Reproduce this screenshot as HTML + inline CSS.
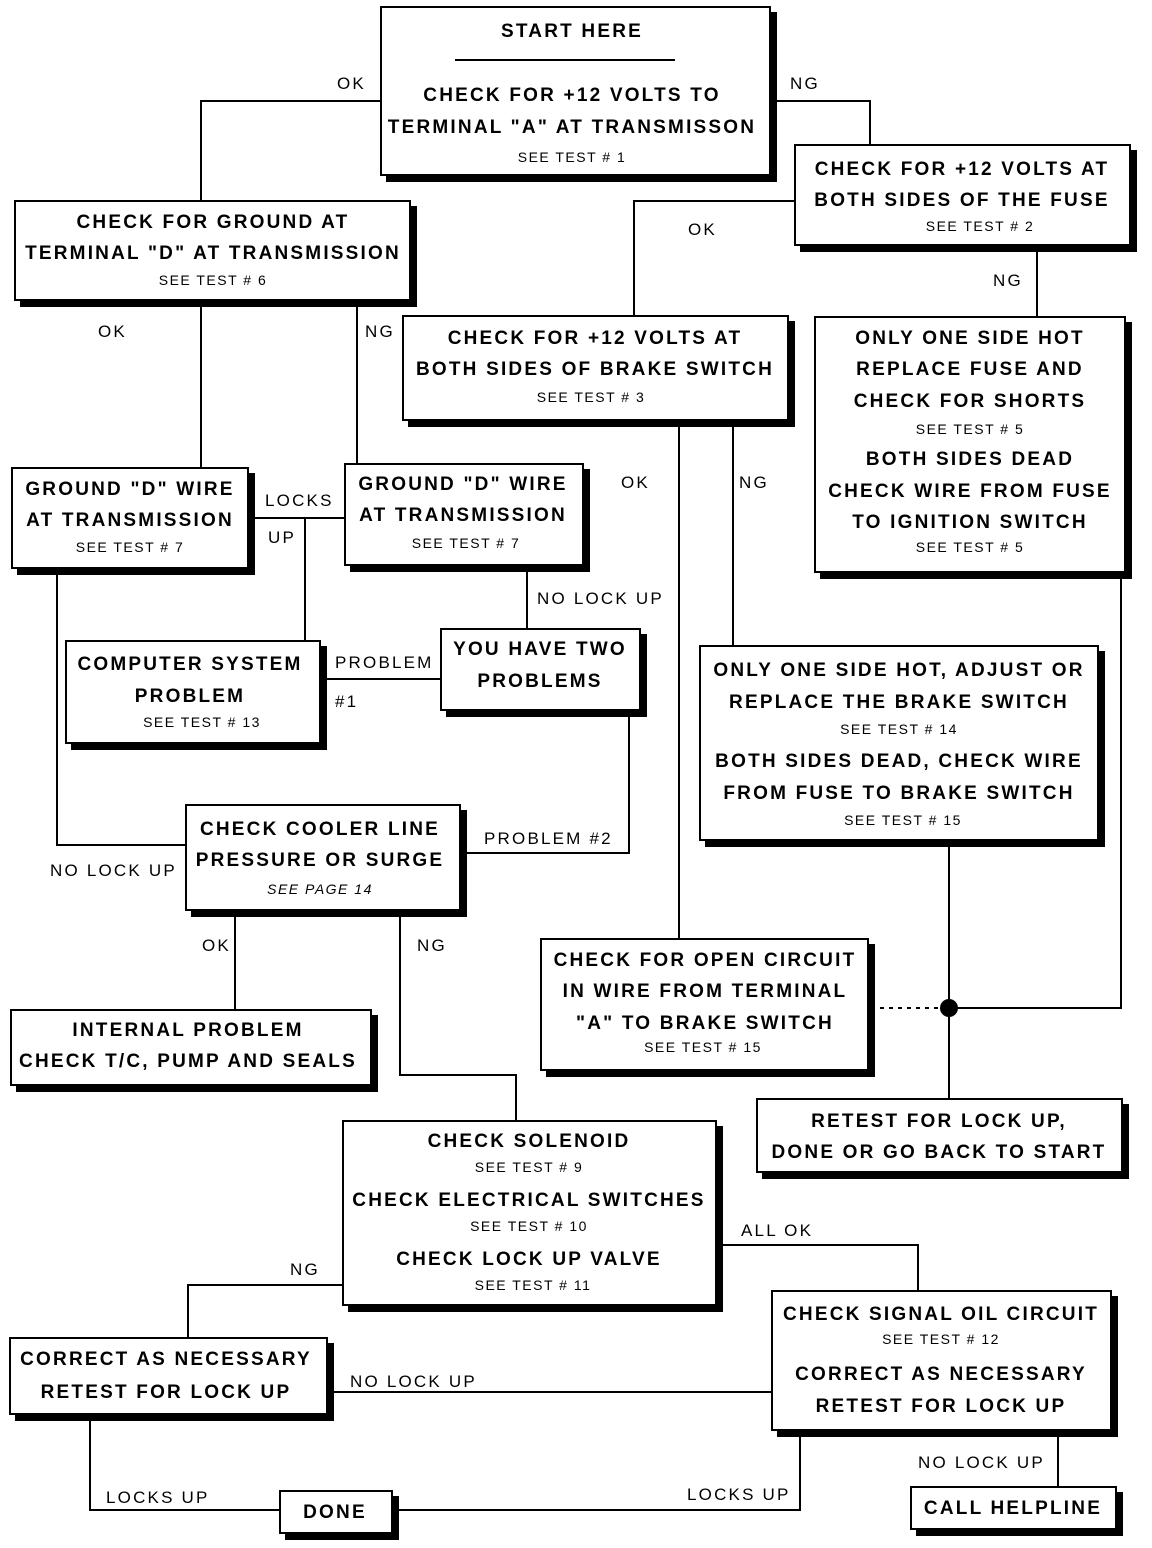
<!DOCTYPE html>
<html><head><meta charset="utf-8"><style>
html,body{margin:0;padding:0;background:#fff}
svg{display:block}
text{font-family:"Liberation Sans",sans-serif;fill:#000}
.b{font-size:19px;font-weight:bold;letter-spacing:2.2px;text-anchor:middle}
.s{font-size:14px;letter-spacing:1.5px;text-anchor:middle}
.l{font-size:17px;letter-spacing:2.2px}
.ln{stroke:#000;stroke-width:2;fill:none}
</style></head><body>
<svg width="1152" height="1548" viewBox="0 0 1152 1548" xmlns="http://www.w3.org/2000/svg">
<g class="ln">
<polyline points="381,101 201,101 201,201"/>
<polyline points="770,101 870,101 870,145"/>
<polyline points="795,201 634,201 634,316"/>
<line x1="1037" y1="245" x2="1037" y2="317"/>
<line x1="201" y1="300" x2="201" y2="468"/>
<line x1="357" y1="300" x2="357" y2="464"/>
<line x1="248" y1="518" x2="345" y2="518"/>
<line x1="305" y1="518" x2="305" y2="641"/>
<polyline points="57,568 57,845 186,845"/>
<line x1="527" y1="565" x2="527" y2="629"/>
<line x1="320" y1="679" x2="441" y2="679"/>
<polyline points="629,710 629,853 460,853"/>
<line x1="679" y1="420" x2="679" y2="939"/>
<line x1="733" y1="420" x2="733" y2="646"/>
<polyline points="1121,572 1121,1008 949,1008"/>
<line x1="949" y1="840" x2="949" y2="1099"/>
<line x1="235" y1="910" x2="235" y2="1010"/>
<polyline points="400,910 400,1075 516,1075 516,1121"/>
<polyline points="343,1285 188,1285 188,1338"/>
<polyline points="716,1245 918,1245 918,1291"/>
<line x1="772" y1="1392" x2="327" y2="1392"/>
<polyline points="90,1414 90,1510 280,1510"/>
<polyline points="800,1430 800,1510 392,1510"/>
<line x1="1058" y1="1430" x2="1058" y2="1487"/>
</g>
<line x1="880" y1="1008" x2="940" y2="1008" stroke="#000" stroke-width="2" stroke-dasharray="4,5"/>
<circle cx="949" cy="1008" r="9" fill="#000"/>
<g>
<g fill="#000">
<rect x="386" y="12" width="391" height="170"/>
<rect x="800" y="150" width="337" height="102"/>
<rect x="20" y="206" width="397" height="101"/>
<rect x="408" y="321" width="387" height="106"/>
<rect x="820" y="322" width="312" height="257"/>
<rect x="17" y="473" width="238" height="102"/>
<rect x="350" y="469" width="240" height="103"/>
<rect x="71" y="646" width="256" height="104"/>
<rect x="446" y="634" width="201" height="83"/>
<rect x="705" y="651" width="400" height="196"/>
<rect x="191" y="810" width="276" height="107"/>
<rect x="16" y="1015" width="362" height="77"/>
<rect x="546" y="944" width="329" height="133"/>
<rect x="762" y="1104" width="367" height="75"/>
<rect x="348" y="1126" width="375" height="186"/>
<rect x="15" y="1343" width="319" height="78"/>
<rect x="777" y="1296" width="341" height="141"/>
<rect x="285" y="1496" width="114" height="44"/>
<rect x="916" y="1492" width="207" height="44"/>
</g>
<g fill="#fff" stroke="#000" stroke-width="2">
<rect x="381" y="7" width="389" height="168"/>
<rect x="795" y="145" width="335" height="100"/>
<rect x="15" y="201" width="395" height="99"/>
<rect x="403" y="316" width="385" height="104"/>
<rect x="815" y="317" width="310" height="255"/>
<rect x="12" y="468" width="236" height="100"/>
<rect x="345" y="464" width="238" height="101"/>
<rect x="66" y="641" width="254" height="102"/>
<rect x="441" y="629" width="199" height="81"/>
<rect x="700" y="646" width="398" height="194"/>
<rect x="186" y="805" width="274" height="105"/>
<rect x="11" y="1010" width="360" height="75"/>
<rect x="541" y="939" width="327" height="131"/>
<rect x="757" y="1099" width="365" height="73"/>
<rect x="343" y="1121" width="373" height="184"/>
<rect x="10" y="1338" width="317" height="76"/>
<rect x="772" y="1291" width="339" height="139"/>
<rect x="280" y="1491" width="112" height="42"/>
<rect x="911" y="1487" width="205" height="42"/>
</g>
</g>
<line x1="455" y1="60" x2="675" y2="60" stroke="#000" stroke-width="2"/>
<text class="b" x="572" y="37">START HERE</text>
<text class="b" x="572" y="101">CHECK FOR +12 VOLTS TO</text>
<text class="b" x="572" y="133">TERMINAL "A" AT TRANSMISSON</text>
<text class="s" x="572" y="162">SEE TEST # 1</text>

<text class="b" x="962" y="175">CHECK FOR +12 VOLTS AT</text>
<text class="b" x="962" y="206">BOTH SIDES OF THE FUSE</text>
<text class="s" x="980" y="231">SEE TEST # 2</text>

<text class="b" x="213" y="228">CHECK FOR GROUND AT</text>
<text class="b" x="213" y="259">TERMINAL "D" AT TRANSMISSION</text>
<text class="s" x="213" y="285">SEE TEST # 6</text>

<text class="b" x="595" y="344">CHECK FOR +12 VOLTS AT</text>
<text class="b" x="595" y="375">BOTH SIDES OF BRAKE SWITCH</text>
<text class="s" x="591" y="402">SEE TEST # 3</text>

<text class="b" x="970" y="344">ONLY ONE SIDE HOT</text>
<text class="b" x="970" y="375">REPLACE FUSE AND</text>
<text class="b" x="970" y="407">CHECK FOR SHORTS</text>
<text class="s" x="970" y="434">SEE TEST # 5</text>
<text class="b" x="970" y="465">BOTH SIDES DEAD</text>
<text class="b" x="970" y="497">CHECK WIRE FROM FUSE</text>
<text class="b" x="970" y="528">TO IGNITION SWITCH</text>
<text class="s" x="970" y="552">SEE TEST # 5</text>

<text class="b" x="130" y="495">GROUND "D" WIRE</text>
<text class="b" x="130" y="526">AT TRANSMISSION</text>
<text class="s" x="130" y="552">SEE TEST # 7</text>

<text class="b" x="463" y="490">GROUND "D" WIRE</text>
<text class="b" x="463" y="521">AT TRANSMISSION</text>
<text class="s" x="466" y="548">SEE TEST # 7</text>

<text class="b" x="190" y="670">COMPUTER SYSTEM</text>
<text class="b" x="190" y="702">PROBLEM</text>
<text class="s" x="202" y="727">SEE TEST # 13</text>

<text class="b" x="540" y="655">YOU HAVE TWO</text>
<text class="b" x="540" y="687">PROBLEMS</text>

<text class="b" x="899" y="676">ONLY ONE SIDE HOT, ADJUST OR</text>
<text class="b" x="899" y="708">REPLACE THE BRAKE SWITCH</text>
<text class="s" x="899" y="734">SEE TEST # 14</text>
<text class="b" x="899" y="767">BOTH SIDES DEAD, CHECK WIRE</text>
<text class="b" x="899" y="799">FROM FUSE TO BRAKE SWITCH</text>
<text class="s" x="903" y="825">SEE TEST # 15</text>

<text class="b" x="320" y="835">CHECK COOLER LINE</text>
<text class="b" x="320" y="866">PRESSURE OR SURGE</text>
<text class="s" x="320" y="894" font-style="italic">SEE PAGE 14</text>

<text class="b" x="188" y="1036">INTERNAL PROBLEM</text>
<text class="b" x="188" y="1067">CHECK T/C, PUMP AND SEALS</text>

<text class="b" x="705" y="966">CHECK FOR OPEN CIRCUIT</text>
<text class="b" x="705" y="997">IN WIRE FROM TERMINAL</text>
<text class="b" x="705" y="1029">"A" TO BRAKE SWITCH</text>
<text class="s" x="703" y="1052">SEE TEST # 15</text>

<text class="b" x="939" y="1127">RETEST FOR LOCK UP,</text>
<text class="b" x="939" y="1158">DONE OR GO BACK TO START</text>

<text class="b" x="529" y="1147">CHECK SOLENOID</text>
<text class="s" x="529" y="1172">SEE TEST # 9</text>
<text class="b" x="529" y="1206">CHECK ELECTRICAL SWITCHES</text>
<text class="s" x="529" y="1231">SEE TEST # 10</text>
<text class="b" x="529" y="1265">CHECK LOCK UP VALVE</text>
<text class="s" x="533" y="1290">SEE TEST # 11</text>

<text class="b" x="166" y="1365">CORRECT AS NECESSARY</text>
<text class="b" x="166" y="1398">RETEST FOR LOCK UP</text>

<text class="b" x="941" y="1320">CHECK SIGNAL OIL CIRCUIT</text>
<text class="s" x="941" y="1344">SEE TEST # 12</text>
<text class="b" x="941" y="1380">CORRECT AS NECESSARY</text>
<text class="b" x="941" y="1412">RETEST FOR LOCK UP</text>

<text class="b" x="335" y="1518">DONE</text>
<text class="b" x="1013" y="1514">CALL HELPLINE</text>

<text class="l" x="337" y="89">OK</text>
<text class="l" x="790" y="89">NG</text>
<text class="l" x="688" y="235">OK</text>
<text class="l" x="993" y="286">NG</text>
<text class="l" x="98" y="337">OK</text>
<text class="l" x="365" y="337">NG</text>
<text class="l" x="265" y="506">LOCKS</text>
<text class="l" x="268" y="543">UP</text>
<text class="l" x="621" y="488">OK</text>
<text class="l" x="739" y="488">NG</text>
<text class="l" x="537" y="604">NO LOCK UP</text>
<text class="l" x="335" y="668">PROBLEM</text>
<text class="l" x="335" y="707">#1</text>
<text class="l" x="484" y="844">PROBLEM #2</text>
<text class="l" x="50" y="876">NO LOCK UP</text>
<text class="l" x="202" y="951">OK</text>
<text class="l" x="417" y="951">NG</text>
<text class="l" x="741" y="1236">ALL OK</text>
<text class="l" x="290" y="1275">NG</text>
<text class="l" x="350" y="1387">NO LOCK UP</text>
<text class="l" x="106" y="1503">LOCKS UP</text>
<text class="l" x="687" y="1500">LOCKS UP</text>
<text class="l" x="918" y="1468">NO LOCK UP</text>
</svg>
</body></html>
